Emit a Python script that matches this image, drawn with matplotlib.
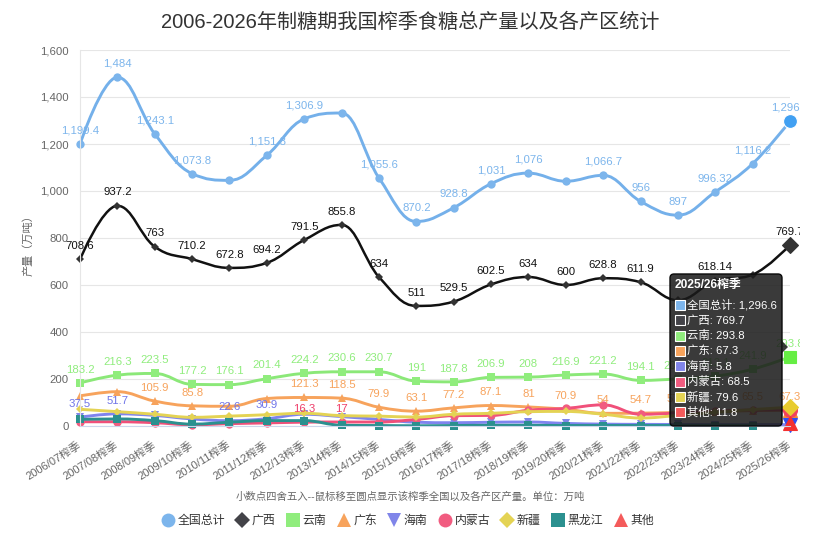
import matplotlib
matplotlib.use('Agg')
import matplotlib.pyplot as plt
import matplotlib.transforms as mtransforms
from matplotlib.path import Path
from matplotlib.patches import PathPatch, FancyBboxPatch, Polygon, Rectangle
from matplotlib.lines import Line2D
from matplotlib.ticker import FuncFormatter
import numpy as np

plt.rcParams['font.family'] = ['Liberation Sans', 'Noto Sans CJK SC']

# 数据 (万吨)
seasons = ['2006/07榨季', '2007/08榨季', '2008/09榨季', '2009/10榨季', '2010/11榨季',
           '2011/12榨季', '2012/13榨季', '2013/14榨季', '2014/15榨季', '2015/16榨季',
           '2016/17榨季', '2017/18榨季', '2018/19榨季', '2019/20榨季', '2020/21榨季',
           '2021/22榨季', '2022/23榨季', '2023/24榨季', '2024/25榨季', '2025/26榨季']
nan = np.nan
total = [1199.4, 1484, 1243.1, 1073.8, 1045.4, 1151.8, 1306.9, 1331.8, 1055.6, 870.2,
         928.8, 1031, 1076, 1041.5, 1066.7, 956, 897, 996.32, 1116.2, 1296.6]
guangxi = [708.6, 937.2, 763, 710.2, 672.8, 694.2, 791.5, 855.8, 634, 511,
           529.5, 602.5, 634, 600, 628.8, 611.9, 535, 618.14, 644, 769.7]
yunnan = [183.2, 216.3, 223.5, 177.2, 176.1, 201.4, 224.2, 230.6, 230.7, 191,
          187.8, 206.9, 208, 216.9, 221.2, 194.1, 200.5, 212.1, 241.9, 293.8]
guangdong = [128, 146, 105.9, 85.8, 84, 117, 121.3, 118.5, 79.9, 63.1,
             77.2, 87.1, 81, 70.9, 54, 54.7, 57.7, 61, 65.5, 67.3]
hainan = [37.5, 51.7, 45, 30, 22.6, 30.9, 50, 40, 28, 16,
          14, 16, 17, 11, 8, 7, 6.5, 6, 6, 5.8]
neimenggu = [18, 18, 14, 5, 10, 13, 16.3, 17, 17, 28,
             44, 45, 67, 75, 90, 50, 55, 62, 68, 68.5]
xinjiang = [71, 61, 50, 37, 42, 48, 54, 44, 42, 38,
            50, 54, 61, 62, 50, 34, 45, 58, 70, 79.6]
heilongjiang = [28, 30, 23, 8, 16, 23, 23, 3, 2, 1,
                2, 3, 3, 2, 2, 2, 2, 2, 2, nan]
qita = [nan] * 19 + [11.8]

names = ['全国总计', '广西', '云南', '广东', '海南', '内蒙古', '新疆', '黑龙江', '其他']
series = [total, guangxi, yunnan, guangdong, hainan, neimenggu, xinjiang, heilongjiang, qita]
colors = ['#7cb5ec', '#434348', '#90ed7d', '#f7a35c', '#8085e9', '#f15c80', '#e4d354', '#2b908f', '#f45b5b']
line_colors = ['#74b0ea', '#111111', '#8be878', '#f7a35c', '#7f84ee', '#f0507a', '#e4d354', '#2b908f', '#f45b5b']
label_colors = ['#7cb5ec', '#111111', '#90ed7d', '#f7a35c', '#6f74e8', '#ee3f6a', '#e4d354', '#2b908f', '#f45b5b']
markers = ['o', 'D', 's', '^', 'v', 'o', 'D', 's', '^']
msizes = [6, 4.5, 5.5, 5.5, 5.5, 6, 4.5, 5.5, 5.5]
hover_colors = ['#41a0f2', '#333333', '#66ee44', '#f78a30', '#2f4df2', '#f2405e', '#e8cc30', '#2b908f', '#f43030']
hover_ms = [10, 8, 9, 10, 10, 10, 8, 9, 10]
# 哪些点显示数据标签
shown = [
    [0, 1, 2, 3, 5, 6, 8, 9, 10, 11, 12, 14, 15, 16, 17, 18, 19],
    [0, 1, 2, 3, 4, 5, 6, 7, 8, 9, 10, 11, 12, 13, 14, 15, 17, 19],
    list(range(20)),
    [2, 3, 6, 7, 8, 9, 10, 11, 12, 13, 14, 15, 16, 18, 19],
    [0, 1, 4, 5],
    [6, 7],
    [], [], [],
]


def fmt(v):
    return f"{v:,.2f}".rstrip('0').rstrip('.')


def spline_path(xs, ys):
    # highcharts 风格的平滑曲线
    pts = [(x, y) for x, y in zip(xs, ys) if not np.isnan(y)]
    n = len(pts)
    lc = list(pts)
    rc = list(pts)
    for i in range(1, n - 1):
        lx, ly = pts[i - 1]
        px_, py = pts[i]
        nx, ny = pts[i + 1]
        lcx = (1.5 * px_ + lx) / 2.5
        lcy = (1.5 * py + ly) / 2.5
        rcx = (1.5 * px_ + nx) / 2.5
        rcy = (1.5 * py + ny) / 2.5
        if rcx != lcx:
            corr = (rcy - lcy) * (rcx - px_) / (rcx - lcx) + py - rcy
            lcy += corr
            rcy += corr
        if lcy > ly and lcy > py:
            lcy = max(ly, py)
            rcy = 2 * py - lcy
        elif lcy < ly and lcy < py:
            lcy = min(ly, py)
            rcy = 2 * py - lcy
        if rcy > ny and rcy > py:
            rcy = max(ny, py)
            lcy = 2 * py - rcy
        elif rcy < ny and rcy < py:
            rcy = min(ny, py)
            lcy = 2 * py - rcy
        lc[i] = (lcx, lcy)
        rc[i] = (rcx, rcy)
    verts = [pts[0]]
    codes = [Path.MOVETO]
    for i in range(1, n):
        verts += [rc[i - 1], lc[i], pts[i]]
        codes += [Path.CURVE4] * 3
    return Path(verts, codes)


W, H = 820, 557
fig = plt.figure(figsize=(W / 100, H / 100), dpi=100)
fig.patch.set_facecolor('white')
ax = fig.add_axes([80 / W, (H - 426) / H, 710 / W, 376 / H])
px = mtransforms.Affine2D().scale(1 / W, -1 / H).translate(0, 1) + fig.transFigure
label_clip = mtransforms.TransformedBbox(mtransforms.Bbox.from_extents(0, 0, 800 / W, 1), fig.transFigure)

x = np.arange(len(seasons))
ax.set_xlim(0, len(seasons) - 1)
ax.set_ylim(0, 1600)

for k, data in enumerate(series):
    d = np.array(data, dtype=float)
    z = 2 + k * 0.05
    if np.count_nonzero(~np.isnan(d)) > 1:
        ax.add_patch(PathPatch(spline_path(x, d), fill=False, edgecolor=line_colors[k],
                               lw=2.1 if k != 1 else 1.8, capstyle='round',
                               joinstyle='round', zorder=z))
    last = len(d) - 1
    ax.plot(x[:last], d[:last], ls='none', marker=markers[k], ms=msizes[k],
            color=colors[k] if k != 1 else '#333333', mew=0, zorder=z + 0.01, clip_on=False)
    if not np.isnan(d[last]):
        ax.plot([x[last]], [d[last]], ls='none', marker=markers[k], ms=hover_ms[k],
                color=hover_colors[k], mec='white' if k == 0 else hover_colors[k],
                mew=0.8, zorder=z + 0.02, clip_on=False)
    for i in shown[k]:
        t = ax.annotate(fmt(d[i]), (x[i], d[i]), xytext=(0, 6), textcoords='offset points',
                        ha='center', va='bottom', fontsize=8.2, color=label_colors[k], zorder=6)
        t.set_clip_on(True)
        t.set_clip_box(label_clip)

ax.set_xticks(x)
ax.set_xticklabels(seasons, rotation=32, ha='right', va='center', rotation_mode='anchor')
ax.tick_params(axis='x', length=0, pad=13, labelsize=8, labelcolor='#666666')
ax.set_yticks(np.arange(0, 1601, 200))
ax.yaxis.set_major_formatter(FuncFormatter(lambda v, p: f"{int(v):,}"))
ax.tick_params(axis='y', length=0, pad=8, labelsize=8.2, labelcolor='#666666')
ax.grid(axis='y', color='#e6e6e6', lw=0.8)
ax.set_axisbelow(True)
for s in ['top', 'right']:
    ax.spines[s].set_visible(False)
ax.spines['left'].set_color('#e6e6e6')
ax.spines['bottom'].set_color('#ccd6eb')

fig.text(0.5, 1 - 22 / H, '2006-2026年制糖期我国榨季食糖总产量以及各产区统计',
         ha='center', va='center', fontsize=14.5, color='#333333')
fig.text(28 / W, 1 - 243 / H, '产量（万吨）', rotation=90, ha='center', va='center',
         fontsize=8, color='#666666')
fig.text(410 / W, 1 - 497 / H, '小数点四舍五入--鼠标移至圆点显示该榨季全国以及各产区产量。单位：万吨',
         ha='center', va='center', fontsize=7.5, color='#666666')

handles = [Line2D([], [], ls='none', marker=markers[k], ms=10 if markers[k] != 'D' else 8,
                  color=colors[k], mew=0) for k in range(len(names))]
fig.legend(handles, names, loc='center', bbox_to_anchor=(408 / W, 1 - 521 / H), ncol=9,
           frameon=False, handlelength=1.0, handletextpad=0.3, columnspacing=0.95,
           fontsize=8.6, labelcolor='#333333')

# 悬停提示框 (2025/26榨季)
box = FancyBboxPatch((670, 274), 112, 152, boxstyle='round,pad=0,rounding_size=4',
                     transform=px, facecolor=(0.1, 0.1, 0.1, 0.86), edgecolor='#0a0a0a',
                     lw=1, zorder=10)
fig.add_artist(box)
fig.add_artist(Polygon([(782, 341), (788, 347), (782, 353)], closed=True, transform=px,
                       facecolor=(0.1, 0.1, 0.1, 0.86), edgecolor='none', zorder=10))
fig.text(675, 285, seasons[-1], transform=px, ha='left', va='center', fontsize=8.6,
         fontweight='bold', color='white', zorder=11)
row = 0
for k, data in enumerate(series):
    v = data[-1]
    if np.isnan(v):
        continue
    yy = 305 + row * 15.3
    fig.add_artist(Rectangle((675, yy - 5), 10, 10, transform=px, facecolor=colors[k],
                             edgecolor='white', lw=0.8, zorder=11))
    fig.text(687, yy, f"{names[k]}: {fmt(v)}", transform=px, ha='left', va='center',
             fontsize=8.2, color='white', zorder=11)
    row += 1

fig.savefig('out.png', dpi=100)
